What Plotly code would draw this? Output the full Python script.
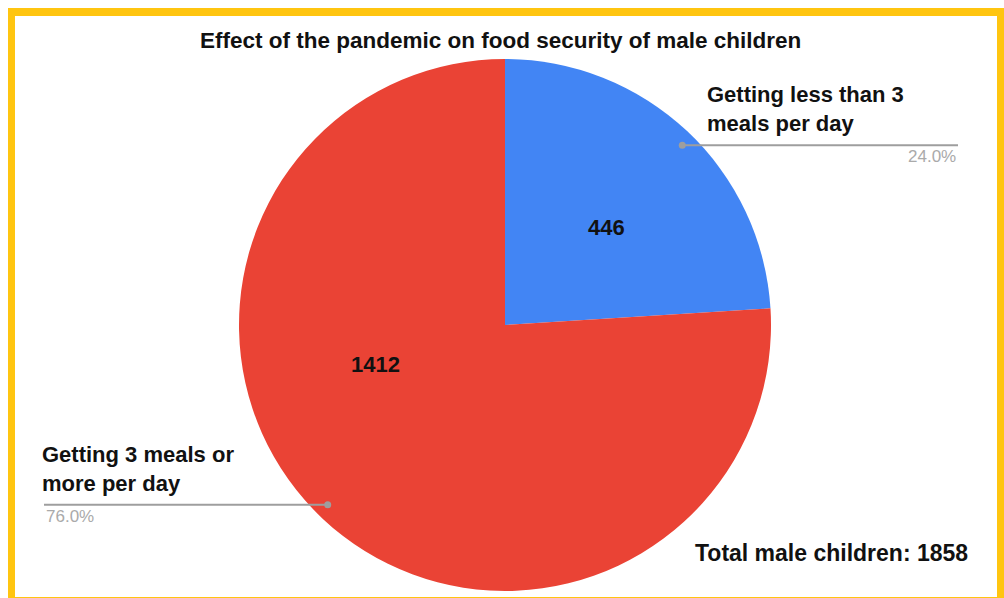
import math
import plotly.graph_objects as go

# Data
categories = ["Getting less than 3 meals per day", "Getting 3 meals or more per day"]
label_lines = [["Getting less than 3", "meals per day"], ["Getting 3 meals or", "more per day"]]
counts = [446, 1412]
colors = ["#4285F4", "#EA4335"]
title_text = "Effect of the pandemic on food security of male children"
total_caption = "Total male children"

W, H = 1004, 598
FONT = "Liberation Sans, Arial, sans-serif"
INK = "#111111"

# pie geometry in pixels
cx, cy, r = 505, 325, 266
# leader-line anchor ellipse (horizontal, vertical radius)
anchor_rx, anchor_ry = 272 * 0.952, 259 * 0.952
# where each slice's value sits: (angle offset from slice middle in degrees, fraction of radius)
value_label_style = [(3.0, 0.53), (30.0, 0.51)]


def px(x):
    return x / W


def py(y):
    return 1 - y / H


total = sum(counts)
shares = [c / total for c in counts]

fig = go.Figure()
fig.add_trace(go.Pie(
    labels=categories,
    values=counts,
    marker=dict(colors=colors, line=dict(width=0)),
    sort=False,
    direction="clockwise",
    rotation=0,
    textinfo="none",
    showlegend=False,
    hoverinfo="label+value+percent",
    domain=dict(x=[px(cx - r), px(cx + r)], y=[py(cy + r), py(cy - r)]),
))

shapes = [
    # frame
    dict(type="rect", xref="paper", yref="paper", x0=px(8), x1=px(1010), y0=py(606), y1=py(8),
         fillcolor="#FFC510", line=dict(width=0), layer="below"),
    dict(type="rect", xref="paper", yref="paper", x0=px(15), x1=px(997), y0=py(597), y1=py(16),
         fillcolor="#FFFFFF", line=dict(width=0), layer="below"),
]
annotations = [
    dict(text=f"<b>{title_text}</b>", x=px(500), y=py(41), xref="paper", yref="paper",
         showarrow=False, xanchor="center", yanchor="middle",
         font=dict(family=FONT, size=22.5, color=INK)),
    dict(text=f"<b>{total_caption}: {total}</b>", x=px(693), y=py(553), xref="paper", yref="paper",
         showarrow=False, xanchor="left", yanchor="middle",
         font=dict(family=FONT, size=23, color=INK)),
]

# value labels, leader lines, category labels and percentages
start = 0.0
for i, share in enumerate(shares):
    mid = (start + share / 2) * 2 * math.pi
    start += share

    off, frac = value_label_style[i]
    a = mid + math.radians(off)
    annotations.append(dict(text=f"<b>{counts[i]}</b>",
                            x=px(cx + math.sin(a) * r * frac), y=py(cy - math.cos(a) * r * frac),
                            xref="paper", yref="paper", showarrow=False,
                            xanchor="center", yanchor="middle",
                            font=dict(family=FONT, size=22, color=INK)))

    dot_x = cx + math.sin(mid) * anchor_rx
    dot_y = cy - math.cos(mid) * anchor_ry
    if dot_x > cx:
        x_end, lbl_x, pct_x, pct_anchor = 958, 705, 958, "right"
    else:
        x_end, lbl_x, pct_x, pct_anchor = 44, 40, 44, "left"
    shapes.append(dict(type="line", xref="paper", yref="paper",
                       x0=px(dot_x), x1=px(x_end), y0=py(dot_y), y1=py(dot_y),
                       line=dict(color="#9E9E9E", width=2)))
    shapes.append(dict(type="circle", xref="paper", yref="paper",
                       x0=px(dot_x - 3.5), x1=px(dot_x + 3.5), y0=py(dot_y + 3.5), y1=py(dot_y - 3.5),
                       fillcolor="#9E9E9E", line=dict(width=0)))
    annotations.append(dict(text="<b>" + "<br>".join(label_lines[i]) + "</b>",
                            x=px(lbl_x), y=py(dot_y - 7), xref="paper", yref="paper",
                            showarrow=False, xanchor="left", yanchor="bottom", align="left",
                            font=dict(family=FONT, size=22, color=INK)))
    annotations.append(dict(text=f"{share * 100:.1f}%",
                            x=px(pct_x), y=py(dot_y), xref="paper", yref="paper",
                            showarrow=False, xanchor=pct_anchor, yanchor="top",
                            font=dict(family=FONT, size=17, color="#AAAAAA")))

fig.update_layout(
    width=W, height=H,
    margin=dict(l=0, r=0, t=0, b=0),
    paper_bgcolor="#FFFFFF",
    plot_bgcolor="#FFFFFF",
    shapes=shapes,
    annotations=annotations,
)

fig.write_html("out.html")
